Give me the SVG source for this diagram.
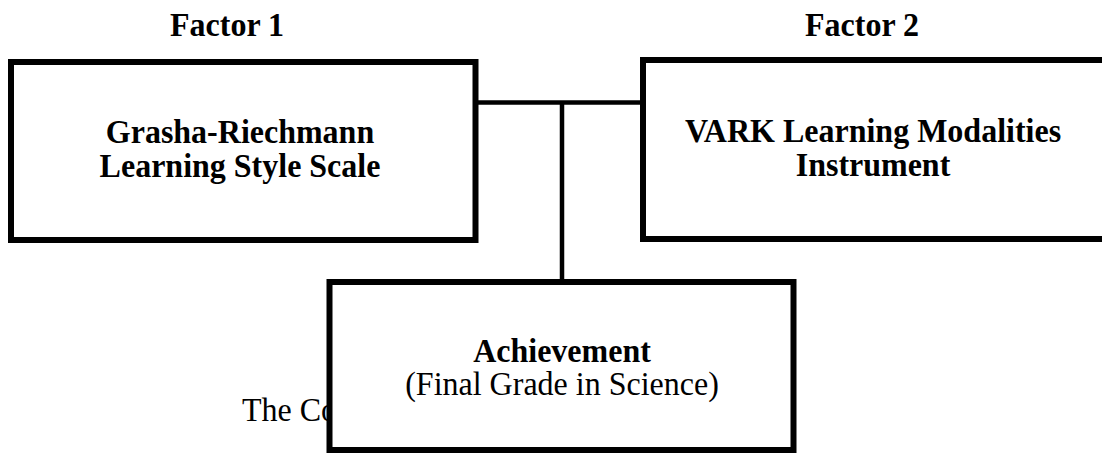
<svg xmlns="http://www.w3.org/2000/svg" width="1102" height="457" viewBox="0 0 1102 457">
<style>
.box{fill:#fff;stroke:#000;stroke-width:6}
.conn{stroke:#000;stroke-width:4.5;fill:none}
.b{font-family:"Liberation Serif","Times New Roman",serif;font-weight:bold;font-size:32px;fill:#000;text-anchor:middle}
.r{font-family:"Liberation Serif","Times New Roman",serif;font-size:32px;fill:#000}
</style>
<rect width="1102" height="457" fill="#fff"/>
<text class="b" transform="translate(227,36) scale(1,1.08)">Factor 1</text>
<text class="b" transform="translate(862,36) scale(1,1.08)">Factor 2</text>
<g id="connectors">
<line class="conn" x1="476" y1="102.5" x2="643" y2="102.5"/>
<line class="conn" x1="562" y1="102.5" x2="562" y2="282"/>
</g>
<g id="node-grasha">
<rect class="box" x="11" y="62" width="464.5" height="178"/>
<text class="b" transform="translate(240,143) scale(1,1.08)">Grasha-Riechmann</text>
<text class="b" transform="translate(240,177) scale(1,1.08)">Learning Style Scale</text>
</g>
<g id="node-vark">
<rect class="box" x="643" y="60" width="500" height="179"/>
<text class="b" transform="translate(873,142) scale(1,1.08)">VARK Learning Modalities</text>
<text class="b" transform="translate(873,176) scale(1,1.08)">Instrument</text>
</g>
<text class="r" transform="translate(242,421) scale(1,1.08)">The Co</text>
<g id="node-achievement">
<rect class="box" x="329.5" y="282" width="464" height="168"/>
<text class="b" transform="translate(562,362) scale(1,1.08)">Achievement</text>
<text class="r" transform="translate(562,395) scale(1,1.08)" text-anchor="middle">(Final Grade in Science)</text>
</g>
</svg>
